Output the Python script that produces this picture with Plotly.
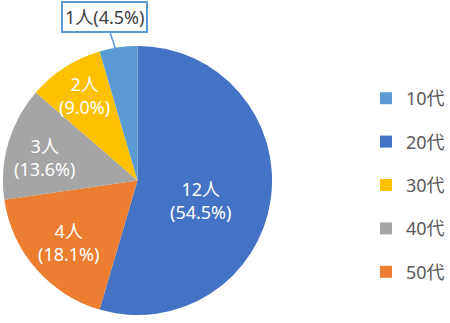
import plotly.graph_objects as go

# Data (clockwise from 12 o'clock, as drawn)
labels = ["20代", "50代", "40代", "30代", "10代"]
counts = [12, 4, 3, 2, 1]
pct_text = ["54.5%", "18.1%", "13.6%", "9.0%", "4.5%"]
colors = ["#4472C4", "#ED7D31", "#A5A5A5", "#FFC000", "#5B9BD5"]

# Legend order
legend_labels = ["10代", "20代", "30代", "40代", "50代"]

color_map = dict(zip(labels, colors))
FONT = "Noto Sans, Noto Sans CJK JP"
W, H = 450, 323

fig = go.Figure()
fig.add_trace(go.Pie(
    labels=labels,
    values=counts,
    textinfo="none",
    marker=dict(colors=colors, line=dict(width=0)),
    sort=False,
    direction="clockwise",
    rotation=0,
    showlegend=False,
    hoverinfo="label+value",
    domain=dict(x=[3/W, 277/W], y=[1-318/H, 1-43/H]),
))

for lab in legend_labels:
    fig.add_trace(go.Scatter(
        x=[None], y=[None], mode="markers", name=lab,
        marker=dict(symbol="square", size=12, color=color_map[lab]),
        legendgroup=lab, showlegend=True,
    ))

# label placement (pixel centres) for the slice labels
label_pos = {"20代": (204, 200), "50代": (70, 242), "40代": (45, 157), "30代": (86, 95)}
for lab, c, p in zip(labels, counts, pct_text):
    if lab not in label_pos:
        continue
    px, py = label_pos[lab]
    fig.add_annotation(
        x=px/W, y=1-py/H, xref="paper", yref="paper",
        xanchor="center", yanchor="middle", showarrow=False,
        text=f"{c}人<br>({p})",
        font=dict(family=FONT, size=18, color="white"),
    )

# callout for the small slice
i10 = labels.index("10代")
fig.add_annotation(
    x=118/W, y=1-50/H, xref="paper", yref="paper",
    ax=-11, ay=-33,
    text=f"{counts[i10]}人({pct_text[i10]})",
    showarrow=True, arrowhead=0, arrowwidth=1.5, arrowcolor="#5B9BD5",
    font=dict(family=FONT, size=18, color="#404040"),
    bordercolor="#5B9BD5", borderwidth=2, borderpad=2, bgcolor="white",
)

fig.update_layout(
    width=W, height=H,
    margin=dict(l=0, r=0, t=0, b=0),
    paper_bgcolor="white", plot_bgcolor="white",
    xaxis=dict(visible=False), yaxis=dict(visible=False),
    legend=dict(
        x=373/W, y=1-80/H, xanchor="left", yanchor="top",
        font=dict(family=FONT, size=18, color="#595959"),
        tracegroupgap=17, traceorder="grouped",
        itemwidth=30,
    ),
)

fig.write_html("out.html")
